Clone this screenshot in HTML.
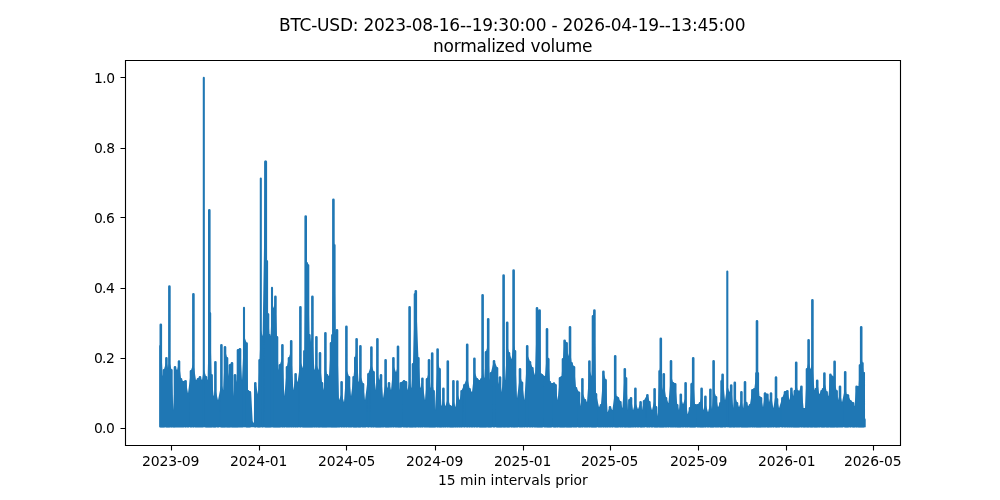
<!DOCTYPE html>
<html lang="en"><head><meta charset="utf-8"><title>BTC-USD normalized volume</title>
<style>html,body{margin:0;padding:0;background:#fff}body{width:1000px;height:500px;overflow:hidden}svg{display:block}</style></head>
<body>
<svg width="1000" height="500" viewBox="0 0 1000 500"><rect width="1000" height="500" fill="#fff"/>
<path d="M159.34 427.35L159.34 345.3L160.30 345.3L160.80 338.3L162.70 376.3L164.00 369.3L166.40 361.3L168.00 368.3L169.40 361.3L171.40 369.3L173.40 410.3L175.00 366.3L177.00 370.3L179.00 363.3L181.00 378.3L183.00 381.3L185.60 380.3L188.00 393.3L191.00 370.3L193.40 363.3L196.00 380.3L198.00 378.3L200.00 376.3L202.00 380.3L203.80 369.3L206.00 376.3L207.60 380.3L209.30 305.3L209.90 312.3L211.60 374.3L213.60 396.3L215.40 389.3L218.00 400.3L221.40 383.3L223.20 390.3L225.00 350.3L227.00 357.3L228.60 376.3L230.00 364.3L232.00 362.3L233.60 396.3L235.00 375.3L236.60 382.3L238.00 349.3L240.00 348.3L242.00 380.3L244.00 335.7L246.60 342.7L248.00 390.3L249.80 391.3L251.10 392.3L252.70 421.3L253.90 423.3L254.10 384.3L255.30 382.3L258.00 394.3L259.60 359.3L260.80 329.3L262.60 336.3L265.40 160.9L265.80 160.9L266.80 260.3L268.00 313.3L269.40 334.3L270.60 336.3L272.00 301.3L273.60 308.3L275.40 301.3L277.00 336.3L278.40 370.3L280.00 364.3L282.40 357.3L284.40 396.3L287.00 366.3L289.00 357.3L291.20 350.3L293.40 390.3L295.60 375.3L297.60 382.3L300.40 361.3L303.00 368.3L304.40 350.3L305.70 255.3L306.80 262.3L308.00 264.3L309.40 334.3L311.00 342.3L312.40 335.3L314.40 370.3L316.40 363.3L318.40 370.3L320.00 363.3L322.00 382.3L323.60 390.3L325.40 367.3L327.00 374.3L329.00 376.3L331.00 342.3L332.40 334.3L333.40 237.3L334.30 244.3L335.60 332.3L337.00 329.3L339.00 400.3L341.60 393.3L344.00 402.3L346.40 369.3L349.00 376.3L351.00 396.3L353.60 376.3L355.30 356.8L356.60 349.8L358.60 382.3L360.40 375.3L363.00 383.3L365.00 400.3L368.40 373.3L371.40 364.3L373.60 371.3L376.00 390.3L377.40 373.3L379.20 380.3L381.00 374.3L383.00 398.3L385.60 381.3L387.40 388.3L389.00 382.3L391.00 390.3L393.40 365.3L396.00 372.3L398.00 365.3L399.60 390.3L401.00 382.3L404.00 380.3L406.00 381.3L407.40 390.3L409.60 381.3L411.40 388.3L413.00 363.3L415.00 293.3L415.80 290.3L418.40 357.3L420.40 388.3L422.40 381.3L425.00 400.3L427.00 378.3L429.00 371.3L430.60 388.3L432.20 381.3L433.60 390.3L435.00 410.3L437.60 361.3L439.60 368.3L441.40 406.3L443.40 399.3L445.40 406.3L447.80 398.3L450.00 405.3L451.60 406.3L453.40 399.3L455.40 407.3L457.40 393.3L459.60 400.3L461.60 390.3L464.40 384.3L467.20 377.3L469.60 388.3L472.00 392.3L474.40 371.3L477.00 378.3L479.60 380.3L481.40 378.3L482.60 371.3L484.40 378.3L486.00 351.3L488.20 344.3L489.60 380.3L491.00 372.3L494.00 360.3L497.00 367.3L498.40 384.3L500.00 377.3L501.60 392.3L503.60 373.3L505.10 380.3L507.20 345.3L509.00 352.3L511.60 359.3L513.60 343.3L515.00 350.3L517.00 398.3L520.00 374.9L522.00 381.9L524.40 400.3L527.20 354.3L530.00 361.3L532.40 367.3L535.00 375.3L537.00 313.3L538.30 320.3L539.60 313.3L540.60 373.3L542.00 374.3L545.00 376.3L547.00 351.3L548.30 358.3L549.90 381.3L551.00 383.3L554.00 382.7L555.60 384.3L557.60 400.3L560.00 377.3L561.60 376.3L563.00 358.3L564.60 339.9L566.60 342.3L568.20 356.3L570.00 349.3L571.60 362.3L574.00 366.3L576.00 387.3L579.00 391.9L580.40 406.3L582.40 392.3L585.00 399.3L587.00 402.3L589.40 369.3L591.60 376.3L593.00 315.3L594.40 309.7L596.00 393.3L599.00 407.3L601.00 404.3L603.40 372.3L605.60 379.3L607.60 412.3L610.00 406.3L612.40 410.3L615.20 389.3L616.60 396.3L618.00 397.3L620.40 401.3L622.40 408.3L624.80 370.3L626.00 377.3L628.00 410.3L629.40 399.3L631.00 397.3L633.00 410.3L635.40 402.3L638.00 409.3L640.60 402.3L642.00 410.3L644.00 400.3L647.40 394.3L649.40 401.3L652.00 410.3L654.60 399.3L656.00 406.3L657.60 416.3L659.60 370.3L660.80 363.3L662.40 390.3L663.80 383.3L666.00 397.3L668.40 403.3L671.00 375.3L673.00 382.3L675.20 383.3L677.20 404.3L679.00 410.3L680.80 397.3L683.00 404.3L685.60 397.3L687.60 414.3L690.00 407.3L691.60 383.3L693.20 376.3L695.00 404.3L698.00 404.3L700.00 402.3L701.60 395.3L703.40 410.3L705.40 403.3L708.00 412.3L710.40 402.3L712.00 409.3L713.60 389.3L716.00 396.3L718.00 407.3L720.40 402.3L721.60 380.3L722.60 373.9L725.00 400.3L727.30 385.3L729.40 392.3L731.20 385.3L733.20 408.3L734.80 395.3L737.00 402.3L739.00 407.3L741.40 400.3L743.20 408.3L745.00 395.3L746.40 402.3L748.00 406.3L750.00 404.3L752.40 389.3L754.40 388.3L756.40 372.3L757.00 365.3L757.80 372.3L759.40 396.3L761.00 397.3L763.00 407.3L765.00 392.7L767.40 393.9L769.00 402.3L771.00 395.3L773.40 408.3L776.00 391.3L777.00 398.3L779.00 408.3L782.40 397.3L785.00 391.3L787.40 390.3L789.40 400.3L791.40 389.3L793.40 396.3L794.80 390.3L796.20 383.3L797.60 390.3L799.00 391.3L801.40 385.9L803.60 408.3L805.00 408.3L807.00 368.3L808.60 361.3L810.60 369.3L812.40 362.3L814.40 390.3L815.80 388.3L817.20 381.3L819.20 394.3L821.60 390.3L823.00 388.3L824.40 381.3L826.60 391.3L828.40 396.3L830.40 373.9L832.00 375.9L833.40 390.3L834.60 383.3L836.60 390.3L838.00 400.3L840.00 393.3L842.00 402.3L845.20 387.3L846.60 394.3L848.00 394.7L850.40 400.3L853.00 402.3L854.40 406.3L856.60 385.9L858.60 386.3L860.00 364.3L861.20 355.3L862.40 362.3L863.60 372.3L865.02 372.3L865.02 418L865.72 419.5V427.35Z" fill="#1f77b4"/>
<path d="M160.64 426.3V346.2M160.80 426.3V324.8M162.70 426.3V377.2M164.00 426.3V370.2M166.40 426.3V358.2M168.00 426.3V369.2M169.40 426.3V286.6M171.40 426.3V370.2M173.40 426.3V411.2M175.00 426.3V367.2M177.00 426.3V371.2M179.00 426.3V361.6M181.00 426.3V379.2M183.00 426.3V382.2M185.60 426.3V381.2M188.00 426.3V394.2M191.00 426.3V371.2M193.40 426.3V294.2M196.00 426.3V381.2M198.00 426.3V379.2M200.00 426.3V377.2M202.00 426.3V381.2M206.00 426.3V377.2M207.60 426.3V381.2M209.30 426.3V210.2M209.90 426.3V313.2M211.60 426.3V375.2M213.60 426.3V397.2M215.40 426.3V362.2M218.00 426.3V401.2M221.40 426.3V345.2M223.20 426.3V391.2M225.00 426.3V347.2M227.00 426.3V358.2M228.60 426.3V377.2M230.00 426.3V365.2M232.00 426.3V363.2M233.60 426.3V397.2M235.00 426.3V375.2M236.60 426.3V383.2M238.00 426.3V350.2M240.00 426.3V349.2M242.00 426.3V381.2M246.60 426.3V343.6M248.00 426.3V391.2M249.80 426.3V392.2M255.30 426.3V383.2M258.00 426.3V395.2M259.60 426.3V360.2M262.60 426.3V337.2M265.40 426.3V161.8M265.80 426.3V161.8M266.80 426.3V261.2M268.00 426.3V314.2M269.40 426.3V335.2M270.60 426.3V337.2M273.60 426.3V309.2M275.40 426.3V296.8M277.00 426.3V337.2M278.40 426.3V371.2M280.00 426.3V365.2M282.40 426.3V345.2M284.40 426.3V397.2M287.00 426.3V367.2M289.00 426.3V358.2M291.20 426.3V341.2M293.40 426.3V391.2M295.60 426.3V374.2M297.60 426.3V383.2M300.40 426.3V307.2M303.00 426.3V369.2M304.40 426.3V351.2M305.70 426.3V216.6M306.80 426.3V263.2M308.00 426.3V265.2M309.40 426.3V335.2M311.00 426.3V343.2M312.40 426.3V296.8M314.40 426.3V371.2M316.40 426.3V337.2M318.40 426.3V371.2M320.00 426.3V353.2M322.00 426.3V383.2M323.60 426.3V391.2M325.40 426.3V333.2M327.00 426.3V375.2M329.00 426.3V377.2M331.00 426.3V343.2M332.40 426.3V335.2M333.40 426.3V199.8M334.30 426.3V245.2M335.60 426.3V333.2M337.00 426.3V330.2M339.00 426.3V401.2M341.60 426.3V382.2M344.00 426.3V403.2M346.40 426.3V326.8M349.00 426.3V377.2M351.00 426.3V397.2M353.60 426.3V377.2M355.30 426.3V357.7M356.60 426.3V339.2M358.60 426.3V383.2M360.40 426.3V346.2M363.00 426.3V384.2M365.00 426.3V401.2M368.40 426.3V374.2M371.40 426.3V347.6M373.60 426.3V372.2M376.00 426.3V391.2M377.40 426.3V339.2M379.20 426.3V381.2M381.00 426.3V375.2M383.00 426.3V399.2M385.60 426.3V360.2M387.40 426.3V389.2M389.00 426.3V383.2M391.00 426.3V391.2M393.40 426.3V358.2M396.00 426.3V373.2M398.00 426.3V346.8M399.60 426.3V391.2M401.00 426.3V383.2M404.00 426.3V381.2M406.00 426.3V382.2M407.40 426.3V391.2M409.60 426.3V307.2M411.40 426.3V389.2M413.00 426.3V364.2M415.00 426.3V294.2M415.80 426.3V291.2M418.40 426.3V358.2M420.40 426.3V389.2M422.40 426.3V378.8M425.00 426.3V401.2M427.00 426.3V379.2M429.00 426.3V360.2M430.60 426.3V389.2M432.20 426.3V353.6M433.60 426.3V391.2M435.00 426.3V411.2M437.60 426.3V349.6M439.60 426.3V369.2M441.40 426.3V407.2M443.40 426.3V388.8M445.40 426.3V407.2M447.80 426.3V361.6M450.00 426.3V406.2M451.60 426.3V407.2M453.40 426.3V381.2M455.40 426.3V408.2M457.40 426.3V381.6M459.60 426.3V401.2M461.60 426.3V391.2M464.40 426.3V385.2M467.20 426.3V344.8M469.60 426.3V389.2M472.00 426.3V393.2M474.40 426.3V358.8M477.00 426.3V379.2M479.60 426.3V381.2M481.40 426.3V379.2M482.60 426.3V295.2M484.40 426.3V379.2M486.00 426.3V352.2M488.20 426.3V319.2M489.60 426.3V381.2M491.00 426.3V373.2M494.00 426.3V361.2M497.00 426.3V368.2M498.40 426.3V385.2M500.00 426.3V377.6M501.60 426.3V393.2M503.60 426.3V275.6M505.10 426.3V381.2M507.20 426.3V322.8M509.00 426.3V353.2M511.60 426.3V360.2M513.60 426.3V270.6M515.00 426.3V351.2M517.00 426.3V399.2M520.00 426.3V369.2M522.00 426.3V382.8M524.40 426.3V401.2M527.20 426.3V346.2M530.00 426.3V362.2M532.40 426.3V368.2M535.00 426.3V376.2M537.00 426.3V308.2M538.30 426.3V321.2M539.60 426.3V310.6M540.60 426.3V374.2M542.00 426.3V375.2M545.00 426.3V377.2M547.00 426.3V329.2M548.30 426.3V359.2M549.90 426.3V382.2M551.00 426.3V384.2M554.00 426.3V383.6M555.60 426.3V385.2M557.60 426.3V401.2M560.00 426.3V378.2M561.60 426.3V377.2M563.00 426.3V359.2M564.60 426.3V340.8M566.60 426.3V343.2M568.20 426.3V357.2M570.00 426.3V327.2M571.60 426.3V363.2M574.00 426.3V367.2M576.00 426.3V388.2M579.00 426.3V392.8M580.40 426.3V407.2M582.40 426.3V379.2M585.00 426.3V400.2M587.00 426.3V403.2M589.40 426.3V361.6M591.60 426.3V377.2M593.00 426.3V316.2M594.40 426.3V310.6M596.00 426.3V394.2M599.00 426.3V408.2M601.00 426.3V405.2M603.40 426.3V371.8M605.60 426.3V380.2M607.60 426.3V413.2M610.00 426.3V407.2M612.40 426.3V411.2M615.20 426.3V356.2M616.60 426.3V397.2M618.00 426.3V398.2M620.40 426.3V402.2M622.40 426.3V409.2M624.80 426.3V369.2M626.00 426.3V378.2M628.00 426.3V411.2M629.40 426.3V400.2M631.00 426.3V398.2M633.00 426.3V411.2M635.40 426.3V388.8M638.00 426.3V410.2M640.60 426.3V402.2M642.00 426.3V411.2M644.00 426.3V401.2M647.40 426.3V395.2M649.40 426.3V402.2M652.00 426.3V411.2M654.60 426.3V389.2M656.00 426.3V407.2M657.60 426.3V417.2M659.60 426.3V371.2M660.80 426.3V338.8M662.40 426.3V391.2M663.80 426.3V374.2M666.00 426.3V398.2M668.40 426.3V404.2M671.00 426.3V361.2M673.00 426.3V383.2M675.20 426.3V384.2M677.20 426.3V405.2M679.00 426.3V411.2M680.80 426.3V394.8M683.00 426.3V405.2M685.60 426.3V383.2M687.60 426.3V415.2M690.00 426.3V408.2M691.60 426.3V384.2M693.20 426.3V358.2M695.00 426.3V405.2M698.00 426.3V405.2M700.00 426.3V403.2M701.60 426.3V388.8M703.40 426.3V411.2M705.40 426.3V396.8M708.00 426.3V413.2M710.40 426.3V389.8M712.00 426.3V410.2M713.60 426.3V361.2M716.00 426.3V397.2M718.00 426.3V408.2M720.40 426.3V403.2M721.60 426.3V381.2M722.60 426.3V374.8M725.00 426.3V401.2M729.40 426.3V393.2M731.20 426.3V385.6M733.20 426.3V409.2M734.80 426.3V382.8M737.00 426.3V403.2M739.00 426.3V408.2M741.40 426.3V392.2M743.20 426.3V409.2M745.00 426.3V382.2M746.40 426.3V403.2M748.00 426.3V407.2M750.00 426.3V405.2M752.40 426.3V390.2M754.40 426.3V389.2M756.40 426.3V373.2M757.00 426.3V321.2M757.80 426.3V373.2M759.40 426.3V397.2M761.00 426.3V398.2M763.00 426.3V408.2M765.00 426.3V393.6M767.40 426.3V394.8M769.00 426.3V403.2M771.00 426.3V393.6M773.40 426.3V409.2M776.00 426.3V377.6M777.00 426.3V399.2M779.00 426.3V409.2M782.40 426.3V398.2M785.00 426.3V392.2M787.40 426.3V391.2M789.40 426.3V401.2M791.40 426.3V388.8M793.40 426.3V397.2M794.80 426.3V391.2M796.20 426.3V362.8M797.60 426.3V391.2M799.00 426.3V392.2M801.40 426.3V386.8M803.60 426.3V409.2M805.00 426.3V409.2M807.00 426.3V369.2M808.60 426.3V340.2M810.60 426.3V370.2M812.40 426.3V300.2M814.40 426.3V391.2M815.80 426.3V389.2M817.20 426.3V380.8M819.20 426.3V395.2M821.60 426.3V391.2M823.00 426.3V389.2M824.40 426.3V373.6M826.60 426.3V392.2M828.40 426.3V397.2M830.40 426.3V374.8M832.00 426.3V376.8M833.40 426.3V391.2M834.60 426.3V361.8M836.60 426.3V391.2M838.00 426.3V401.2M840.00 426.3V386.8M842.00 426.3V403.2M845.20 426.3V372.2M846.60 426.3V395.2M848.00 426.3V395.6M850.40 426.3V401.2M853.00 426.3V403.2M854.40 426.3V407.2M856.60 426.3V386.8M858.60 426.3V387.2M860.00 426.3V365.2M861.20 426.3V327.2M862.40 426.3V363.2M863.60 426.3V373.2" fill="none" stroke="#1f77b4" stroke-width="2.6" stroke-linecap="round"/>
<path d="M203.80 426.3V77.9M244.00 426.3V307.9M260.80 426.3V178.5M272.00 426.3V287.9M727.30 426.3V271.5" fill="none" stroke="#1f77b4" stroke-width="2.083" stroke-linecap="round"/>
<g stroke="#000" stroke-width="1.111" fill="none"><path d="M171.5 445.5V450.5M259.5 445.5V450.5M346.5 445.5V450.5M435.5 445.5V450.5M523.5 445.5V450.5M610.5 445.5V450.5M698.5 445.5V450.5M786.5 445.5V450.5M873.5 445.5V450.5M125.5 428.5H120.5M125.5 358.5H120.5M125.5 288.5H120.5M125.5 217.5H120.5M125.5 148.5H120.5M125.5 77.5H120.5"/><path d="M125.5 60.5H900.5V445.5H125.5Z" stroke-linejoin="miter"/></g>
<g font-family="'DejaVu Sans','Liberation Sans',sans-serif" fill="#000"><text x="170.68" y="465.66" font-size="14.000px" text-anchor="middle" textLength="57.50" lengthAdjust="spacing">2023-09</text><text x="258.68" y="465.66" font-size="13.889px" text-anchor="middle" textLength="57.38" lengthAdjust="spacing">2024-01</text><text x="346.71" y="465.66" font-size="13.889px" text-anchor="middle" textLength="57.18" lengthAdjust="spacing">2024-05</text><text x="434.68" y="465.66" font-size="13.889px" text-anchor="middle" textLength="57.38" lengthAdjust="spacing">2024-09</text><text x="522.68" y="465.66" font-size="13.889px" text-anchor="middle" textLength="57.38" lengthAdjust="spacing">2025-01</text><text x="609.74" y="465.66" font-size="13.889px" text-anchor="middle" textLength="57.38" lengthAdjust="spacing">2025-05</text><text x="698.71" y="465.66" font-size="14.000px" text-anchor="middle" textLength="57.25" lengthAdjust="spacing">2025-09</text><text x="786.71" y="465.66" font-size="13.889px" text-anchor="middle" textLength="57.58" lengthAdjust="spacing">2026-01</text><text x="872.77" y="465.66" font-size="13.889px" text-anchor="middle" textLength="57.38" lengthAdjust="spacing">2026-05</text><text x="114.73" y="432.53" font-size="13.889px" text-anchor="end" textLength="20.80" lengthAdjust="spacing">0.0</text><text x="114.73" y="362.53" font-size="13.889px" text-anchor="end" textLength="20.80" lengthAdjust="spacing">0.2</text><text x="114.73" y="292.53" font-size="13.889px" text-anchor="end" textLength="20.80" lengthAdjust="spacing">0.4</text><text x="114.73" y="222.53" font-size="13.889px" text-anchor="end" textLength="20.83" lengthAdjust="spacing">0.6</text><text x="115.03" y="152.53" font-size="13.889px" text-anchor="end" textLength="21.08" lengthAdjust="spacing">0.8</text><text x="115.03" y="82.53" font-size="13.889px" text-anchor="end" textLength="21.08" lengthAdjust="spacing">1.0</text><text x="512.85" y="484.51" font-size="13.889px" text-anchor="middle">15 min intervals prior</text><text x="512.25" y="30.60" font-size="17.000px" text-anchor="middle" textLength="466.50" lengthAdjust="spacing">BTC-USD: 2023-08-16--19:30:00 - 2026-04-19--13:45:00</text><text x="512.75" y="51.70" font-size="17.000px" text-anchor="middle" textLength="159.50" lengthAdjust="spacing">normalized volume</text></g>
</svg>
</body></html>
